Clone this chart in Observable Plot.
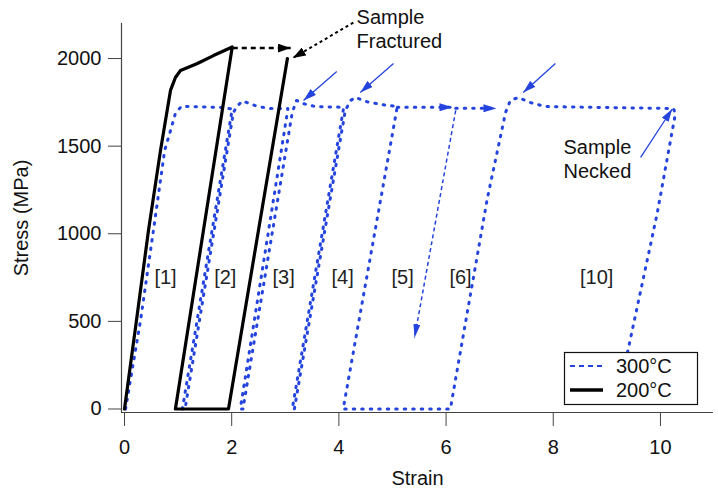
<!DOCTYPE html>
<html><head><meta charset="utf-8">
<script src="https://cdn.jsdelivr.net/npm/d3@7"></script>
<script src="https://cdn.jsdelivr.net/npm/@observablehq/plot@0.6"></script>
<style>
body{margin:0;background:#fff;}
#chart{position:relative;width:718px;height:496px;}
</style></head><body><div id="chart"></div>
<script>
// ---- data ----
const xTicks = [0, 2, 4, 6, 8, 10];
const yTicks = [0, 500, 1000, 1500, 2000];

// 200°C (solid black): load, unload, zero-stress segment, reload to fracture
const strain200 = [0, 0.224, 0.448, 0.672, 0.858, 0.95, 1.045, 1.36, 1.66, 2.01, 0.95, 1.94, 2.50, 3.04];
const stress200 = [0, 507, 1020, 1476, 1818, 1892, 1932, 1972, 2017, 2066, 0, 0, 1020, 2000];

// 300°C (dotted blue): incremental load / unload cycles
const strain300 = [0.02, 0.30, 0.54, 0.75, 0.86, 0.95, 1.06, 1.83, 2.01,
  1.08, 1.13, 2.03, 2.09, 2.20, 2.48, 2.72, 3.05,
  2.16, 2.21, 3.13, 3.21, 3.32, 3.56, 4.09,
  3.13, 3.17, 4.12, 4.22, 4.31, 4.50, 4.78, 5.09,
  4.08, 6.08, 6.77, 7.11, 7.20, 7.35, 7.57, 7.85, 8.88, 10.24, 10.28, 9.94, 9.16];
const stress300 = [0, 507, 1020, 1476, 1590, 1687, 1727, 1721, 1712,
  0, 0, 1690, 1725, 1758, 1727, 1715, 1715,
  0, 0, 1692, 1761, 1744, 1726, 1722,
  0, 0, 1704, 1761, 1778, 1755, 1738, 1726,
  0, 0, 1202, 1692, 1761, 1778, 1749, 1726, 1721, 1715, 1687, 1117, 0];

// flow arrows on the 300°C plateau
const flowX1 = [5.09, 6.18], flowX2 = [6.12, 6.94], flowY = [1722, 1716];
// pointer arrows to the stress peaks / necking point
const peakX1 = [3.96, 5.02, 8.04, 9.63], peakY1 = [1926, 1972, 1972, 1436];
const peakX2 = [3.34, 4.40, 7.44, 10.22], peakY2 = [1761, 1806, 1806, 1712];
// dashed unloading guide
const guideX = [6.18, 5.41], guideY = [1704, 405];
// black annotation arrows
const fracShiftX = [2.02, 3.10], fracShiftY = [2060, 2060];
const fracPointX = [4.27, 3.14], fracPointY = [2205, 2003];

const regionLabels = ["[1]", "[2]", "[3]", "[4]", "[5]", "[6]", "[10]"];
const regionX = [0.765, 1.88, 2.97, 4.07, 5.19, 6.27, 8.81];
const regionY = [752, 752, 752, 752, 752, 752, 752];

const noteText = ["Sample\nFractured", "Sample\nNecked"];
const noteX = [4.33, 8.19], noteY = [2174, 1430];

const seriesNames = ["300°C", "200°C"];

// ---- build tables ----
const c200 = strain200.map((x, i) => ({x, y: stress200[i]}));
const c300 = strain300.map((x, i) => ({x, y: stress300[i]}));
const flows = flowX1.map((x1, i) => ({x1, x2: flowX2[i], y1: flowY[i], y2: flowY[i]}));
const peaks = peakX1.map((x1, i) => ({x1, y1: peakY1[i], x2: peakX2[i], y2: peakY2[i]}));
const guide = [{x1: guideX[0], y1: guideY[0], x2: guideX[1], y2: guideY[1]}];
const fracShift = [{x1: fracShiftX[0], y1: fracShiftY[0], x2: fracShiftX[1], y2: fracShiftY[1]}];
const fracPoint = [{x1: fracPointX[0], y1: fracPointY[0], x2: fracPointX[1], y2: fracPointY[1]}];
const regions = regionLabels.map((t, i) => ({t, x: regionX[i], y: regionY[i]}));
const notes = noteText.map((t, i) => ({t, x: noteX[i], y: noteY[i]}));

const BLUE = "#2444dd";
const FONT = "'Liberation Sans', Arial, Helvetica, sans-serif";

const head = (len, wid) => (color) => {
  const m = d3.create("svg:marker")
    .attr("viewBox", `${-len} ${-wid / 2} ${len} ${wid}`)
    .attr("markerWidth", len).attr("markerHeight", wid)
    .attr("markerUnits", "userSpaceOnUse")
    .attr("orient", "auto").attr("refX", 0).attr("refY", 0);
  m.append("path").attr("d", `M${-len},${-wid / 2}L0,0L${-len},${wid / 2}Z`)
    .attr("fill", color).attr("stroke", "none");
  return m.node();
};

const xDom = [-0.056, 10.99], yDom = [-20, 2200];

const chart = Plot.plot({
  width: 718, height: 496,
  marginTop: 23, marginRight: 5, marginBottom: 84, marginLeft: 121,
  style: {fontFamily: FONT, fontSize: "20px", color: "#111", background: "#fff"},
  x: {domain: xDom},
  y: {domain: yDom},
  marks: [
    Plot.ruleX([xDom[0]], {stroke: "#444", strokeWidth: 1.2}),
    Plot.ruleY([yDom[0]], {stroke: "#444", strokeWidth: 1.2}),
    Plot.axisX({ticks: xTicks, tickSize: 14, tickPadding: 13, tickFormat: d => String(d),
      stroke: "#444", label: "Strain", labelAnchor: "center", labelOffset: 72, labelArrow: "none"}),
    Plot.axisY({ticks: yTicks, tickSize: 13, tickPadding: 7, tickFormat: d => String(d),
      stroke: "#444", label: "Stress (MPa)", labelAnchor: "center", labelOffset: 108, labelArrow: "none"}),
    // curves
    Plot.line(c300, {x: "x", y: "y", stroke: BLUE, strokeWidth: 3, strokeDasharray: "1.5,7", strokeLinecap: "round", curve: "linear"}),
    Plot.line(c200, {x: "x", y: "y", stroke: "#000", strokeWidth: 3.2, strokeLinejoin: "round", curve: "linear"}),
    // plateau flow arrows
    Plot.link(flows, {x1: "x1", y1: "y1", x2: "x2", y2: "y2", stroke: BLUE, strokeWidth: 3, strokeDasharray: "1.5,7", strokeLinecap: "round", markerEnd: head(13, 8)}),
    // pointers
    Plot.link(peaks, {x1: "x1", y1: "y1", x2: "x2", y2: "y2", stroke: BLUE, strokeWidth: 1.3, markerEnd: head(13, 8)}),
    Plot.link(guide, {x1: "x1", y1: "y1", x2: "x2", y2: "y2", stroke: BLUE, strokeWidth: 1.5, strokeDasharray: "4,3", markerEnd: head(14, 7)}),
    Plot.link(fracShift, {x1: "x1", y1: "y1", x2: "x2", y2: "y2", stroke: "#000", strokeWidth: 2.5, strokeDasharray: "5,4", markerEnd: head(13, 9)}),
    Plot.link(fracPoint, {x1: "x1", y1: "y1", x2: "x2", y2: "y2", stroke: "#000", strokeWidth: 2, strokeDasharray: "3,3", markerEnd: head(13, 9)}),
    // labels
    Plot.text(regions, {x: "x", y: "y", text: "t", fill: "#222", fontSize: 20, textAnchor: "middle"}),
    Plot.text(notes, {x: "x", y: "y", text: "t", fill: "#111", fontSize: 20, textAnchor: "start", lineHeight: 1.22, clip: false})
  ]
});
document.getElementById("chart").appendChild(chart);

// legend (inside plot, lower right)
const svg = d3.select(chart);
const lg = svg.append("g").attr("font-family", FONT).attr("font-size", 20).attr("text-anchor", "start");
lg.append("rect").attr("x", 564.5).attr("y", 352.5).attr("width", 133).attr("height", 52)
  .attr("fill", "#fff").attr("stroke", "#111").attr("stroke-width", 1.2);
const legendStyles = [
  {stroke: BLUE, width: 2.2, dash: "5,4"},
  {stroke: "#000", width: 3.5, dash: null}
];
seriesNames.forEach((name, i) => {
  const yy = 366 + i * 24;
  lg.append("line").attr("x1", 570).attr("x2", 603).attr("y1", yy).attr("y2", yy)
    .attr("stroke", legendStyles[i].stroke).attr("stroke-width", legendStyles[i].width)
    .attr("stroke-dasharray", legendStyles[i].dash);
  lg.append("text").attr("x", 616).attr("y", yy).attr("dy", "0.35em")
    .attr("text-anchor", "start").attr("fill", "#111").text(name);
});
</script></body></html>
